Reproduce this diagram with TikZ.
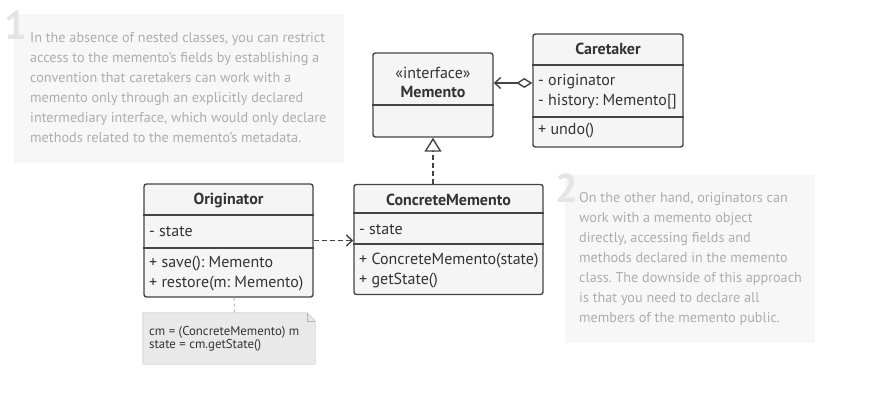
\documentclass[tikz,border=0pt]{standalone}
\usepackage{fontspec}
\setmainfont{PT Sans}
\frenchspacing
\usetikzlibrary{positioning, arrows.meta}
\definecolor{boxfill}{HTML}{F5F5F5}
\definecolor{boxline}{HTML}{444444}
\definecolor{hintfill}{HTML}{F7F7F7}
\definecolor{hinttext}{HTML}{ADADAD}
\definecolor{digit}{HTML}{E4E4E4}
\definecolor{codefill}{HTML}{E9E9E9}
\definecolor{codeline}{HTML}{B5B5B5}

\begin{document}
\begin{tikzpicture}[x=1pt, y=-1pt]
\tikzstyle{cls}=[rectangle, rounded corners=2.5pt, draw=boxline, line width=1.4pt, fill=boxfill, inner sep=0pt]
\tikzstyle{head}=[inner sep=0pt, align=center, text=black!80, font=\fontsize{16}{19}\selectfont]
\tikzstyle{txt}=[anchor=west, inner sep=0pt, align=left, text=black!80, font=\fontsize{16}{20}\selectfont]
\tikzstyle{hint}=[rectangle, fill=hintfill, inner sep=0pt]
\tikzstyle{hinttxt}=[anchor=north west, inner sep=0pt, align=left, text=hinttext, font=\fontsize{14.2}{20}\selectfont]
\tikzstyle{num}=[anchor=north west, inner sep=0pt, text=digit, font=\fontsize{40}{40}\selectfont\bfseries]
\tikzstyle{sep}=[draw=boxline, line width=1.4pt]
\tikzstyle{agg}=[draw=boxline, line width=1.4pt, {Diamond[open, length=16pt, width=10pt]}-{Straight Barb[length=6pt, width=11pt]}]
\tikzstyle{real}=[draw=boxline, line width=1.4pt, dash pattern=on 5pt off 3pt, -{Triangle[open, length=14pt, width=17pt]}]
\tikzstyle{dep}=[draw=boxline, line width=1.4pt, dash pattern=on 5pt off 3pt, -{Straight Barb[length=6pt, width=11pt]}]
\useasboundingbox (0,0) rectangle (875,406);
% 1. Hints
%%%%%%%%%%
\node[hint, minimum width=330pt, minimum height=149pt] (h1) at (179,88.5) {};
\node[num] (d1) at (4,11) {1};
\node[hinttxt] (h1t) at (30,32.5) {In the absence of nested classes, you can restrict\\
  access to the memento's fields by establishing a\\
  convention that caretakers can work with a\\
  memento only through an explicitly declared\\
  intermediary interface, which would only declare\\
  methods related to the memento's metadata.};
\node[hint, minimum width=250pt, minimum height=168pt] (h2) at (690,259) {};
\node[num] (d2) at (555,174) {2};
\node[hinttxt] (h2t) at (579,192.5) {On the other hand, originators can\\
  work with a memento object\\
  directly, accessing fields and\\
  methods declared in the memento\\
  class. The downside of this approach\\
  is that you need to declare all\\
  members of the memento public.};
% 2. Classes
%%%%%%%%%%%%
\node[cls, minimum width=120pt, minimum height=84pt] (mem) at (433,95) {};
\draw[sep] (mem.west |- 0,105) -- (mem.east |- 0,105);
\node[head] (mem-t) at (433,82.5) {«interface»\\\textbf{Memento}};

\node[cls, minimum width=150pt, minimum height=113pt] (car) at (608,90.5) {};
\draw[sep] (car.west |- 0,65) -- (car.east |- 0,65);
\draw[sep] (car.west |- 0,117) -- (car.east |- 0,117);
\node[head] (car-t) at (608,49) {\textbf{Caretaker}};
\node[txt] (car-a) at (538,92) {- originator\\- history: Memento[]};
\node[txt] (car-m) at (538,131) {+ undo()};

\node[cls, minimum width=169pt, minimum height=113pt] (orig) at (228.5,240.5) {};
\draw[sep] (orig.west |- 0,215) -- (orig.east |- 0,215);
\draw[sep] (orig.west |- 0,248) -- (orig.east |- 0,248);
\node[head] (orig-t) at (228.5,200) {\textbf{Originator}};
\node[txt] (orig-a) at (149,232) {- state};
\node[txt] (orig-m) at (149,274) {+ save(): Memento\\+ restore(m: Memento)};

\node[cls, minimum width=189pt, minimum height=110pt] (cm) at (448.5,239.5) {};
\draw[sep] (cm.west |- 0,213) -- (cm.east |- 0,213);
\draw[sep] (cm.west |- 0,244) -- (cm.east |- 0,244);
\node[head] (cm-t) at (448.5,200) {\textbf{ConcreteMemento}};
\node[txt] (cm-a) at (359,230) {- state};
\node[txt] (cm-m) at (359,271) {+ ConcreteMemento(state)\\+ getState()};

% 3. Code note
%%%%%%%%%%%%%%
\node[minimum width=172pt, minimum height=51pt, inner sep=0pt] (note) at (229,338.5) {};
\draw[codeline, fill=codefill] (note.north west) -- ([xshift=-8pt]note.north east)
  -- ([yshift=-8pt]note.north east) -- (note.south east) -- (note.south west) -- cycle;
\draw[codeline] ([xshift=-8pt]note.north east) -- ([xshift=-8pt, yshift=-8pt]note.north east)
  -- ([yshift=-8pt]note.north east);
\node[anchor=west, inner sep=0pt, align=left, text=black!80, font=\fontsize{12.8}{13}\selectfont]
  (note-t) at (149,338.5) {cm = (ConcreteMemento) m\\state = cm.getState()};

% 4. Arrows
%%%%%%%%%%%
\draw[agg] ([yshift=7.5pt]car.west) -- ([yshift=7.5pt]car.west -| mem.east);
\draw[real] (mem.south |- cm.north) -- (mem.south);
\draw[dep] (orig.east) -- (orig.east -| cm.west);
\draw[codeline, line width=1pt, dash pattern=on 3pt off 3pt] ([xshift=5.5pt]orig.south) -- ([xshift=5.5pt]note.north);

\end{tikzpicture}
\end{document}
